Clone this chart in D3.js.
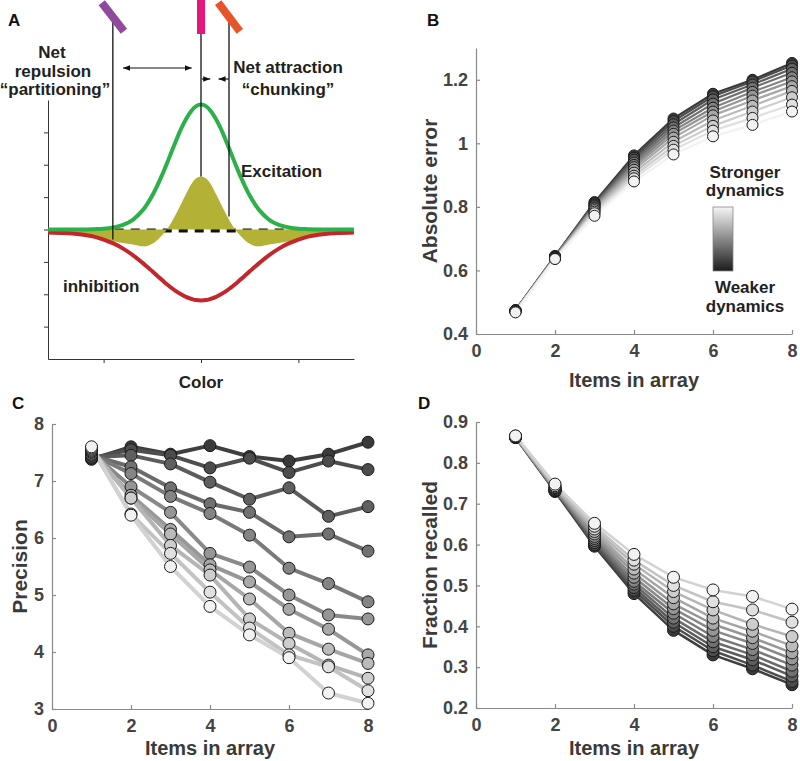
<!DOCTYPE html>
<html><head><meta charset="utf-8">
<script src="https://cdn.jsdelivr.net/npm/d3@7"></script>
<style>body{margin:0;background:#fff}svg{display:block;font-family:"Liberation Sans",Arial,Helvetica,sans-serif;font-weight:bold}</style>
</head><body>
<script>
// ---------- DATA ----------
// Panel A (schematic tuning curves) sampled on the colour axis (radians)
const colorX = [-3.14,-2.8,-2.5,-2.2,-2.0,-1.8,-1.6,-1.4,-1.2,-1.1,-1.0,-0.9,-0.8,-0.7,-0.6,-0.5,-0.4,-0.3,-0.2,-0.1,0,0.1,0.2,0.3,0.4,0.5,0.6,0.7,0.8,0.9,1.0,1.1,1.2,1.4,1.6,1.8,2.0,2.2,2.5,2.8,3.14];
const excitation = [0,0,0,0.01,0.02,0.06,0.14,0.30,0.59,0.80,1.05,1.35,1.68,2.04,2.42,2.79,3.14,3.43,3.66,3.81,3.86,3.81,3.66,3.43,3.14,2.79,2.42,2.04,1.68,1.35,1.05,0.80,0.59,0.30,0.14,0.06,0.02,0.01,0,0,0];
const inhibition = [-0.09,-0.11,-0.15,-0.22,-0.31,-0.43,-0.59,-0.79,-1.03,-1.16,-1.29,-1.43,-1.56,-1.69,-1.81,-1.92,-2.01,-2.09,-2.14,-2.18,-2.19,-2.18,-2.14,-2.09,-2.01,-1.92,-1.81,-1.69,-1.56,-1.43,-1.29,-1.16,-1.03,-0.79,-0.59,-0.43,-0.31,-0.22,-0.15,-0.11,-0.09];
const netInput = [-0.09,-0.11,-0.15,-0.21,-0.29,-0.36,-0.42,-0.46,-0.52,-0.51,-0.44,-0.33,-0.18,0.0,0.24,0.52,0.82,1.12,1.40,1.58,1.64,1.58,1.40,1.12,0.82,0.52,0.24,0.0,-0.18,-0.33,-0.44,-0.51,-0.52,-0.46,-0.42,-0.36,-0.29,-0.21,-0.15,-0.11,-0.09];
const aTicksX = [-2,0,2];
const aTicksY = [-3,-2,-1,0,1,2,3];

// Panels B-D
const items = [1,2,3,4,5,6,7,8];
const itemTicks = [0,2,4,6,8];
// index 0 = weakest dynamics (darkest) ... index 10 = strongest dynamics (lightest)
const absError = [
 [0.475,0.645,0.815,0.962,1.078,1.156,1.200,1.253],
 [0.475,0.645,0.812,0.955,1.070,1.148,1.195,1.245],
 [0.474,0.644,0.808,0.948,1.060,1.138,1.185,1.235],
 [0.474,0.643,0.805,0.940,1.050,1.125,1.175,1.222],
 [0.473,0.642,0.802,0.932,1.040,1.112,1.162,1.208],
 [0.473,0.641,0.798,0.925,1.030,1.100,1.150,1.195],
 [0.472,0.640,0.795,0.917,1.018,1.088,1.135,1.180],
 [0.472,0.639,0.790,0.908,1.005,1.072,1.118,1.165],
 [0.471,0.638,0.785,0.898,0.992,1.055,1.100,1.145],
 [0.470,0.637,0.780,0.890,0.980,1.040,1.080,1.122],
 [0.468,0.636,0.772,0.880,0.965,1.022,1.058,1.100]
];
const errorTicks = [0.4,0.6,0.8,1,1.2];
const precision = [
 [7.38,7.60,7.47,7.62,7.43,7.35,7.47,7.68],
 [7.40,7.55,7.45,7.23,7.40,7.15,7.35,7.20],
 [7.42,7.45,7.30,6.98,6.68,6.88,6.38,6.55],
 [7.45,7.25,6.88,6.60,6.45,6.02,6.07,5.77],
 [7.47,7.13,6.73,6.43,6.05,5.47,5.20,4.88],
 [7.50,6.90,6.45,5.73,5.49,5.00,4.65,4.58],
 [7.52,6.75,6.15,5.53,5.23,4.75,4.40,3.95],
 [7.54,6.70,6.07,5.44,4.93,4.33,4.05,3.80],
 [7.56,6.70,5.87,5.35,4.58,4.15,3.77,3.54],
 [7.58,6.42,5.73,5.05,4.42,3.95,3.74,3.32],
 [7.60,6.40,5.50,4.80,4.30,3.90,3.28,3.10]
];
const precisionTicks = [3,4,5,6,7,8];
const recalled = [
 [0.862,0.730,0.596,0.480,0.390,0.330,0.296,0.257],
 [0.862,0.731,0.600,0.488,0.400,0.340,0.305,0.265],
 [0.863,0.732,0.605,0.495,0.410,0.350,0.318,0.278],
 [0.863,0.733,0.610,0.503,0.420,0.362,0.330,0.290],
 [0.863,0.734,0.615,0.510,0.432,0.375,0.343,0.305],
 [0.864,0.735,0.620,0.520,0.443,0.390,0.358,0.320],
 [0.864,0.737,0.626,0.530,0.455,0.405,0.372,0.335],
 [0.864,0.739,0.632,0.540,0.470,0.420,0.388,0.352],
 [0.865,0.741,0.638,0.552,0.485,0.440,0.405,0.375],
 [0.865,0.744,0.645,0.562,0.500,0.460,0.440,0.410],
 [0.866,0.748,0.652,0.576,0.520,0.489,0.473,0.442]
];
const recallTicks = [0.2,0.3,0.4,0.5,0.6,0.7,0.8,0.9];

// ---------- DRAW ----------
const svg = d3.select("body").append("svg").attr("width",800).attr("height",761);
svg.append("rect").attr("width",800).attr("height",761).attr("fill","#fff");

const shade = d3.scaleLinear().domain([0,10]).range(["#3a3a3a","#f2f2f2"]);
const lineShade = d3.scaleLinear().domain([0,10]).range(["#3f3f3f","#d2d2d2"]);

// ===== Panel A =====
const ax = d3.scaleLinear().domain([-Math.PI,Math.PI]).range([48,354]);
const ay = d3.scaleLinear().domain([-4,4]).range([359,100]);
const gA = svg.append("g");
gA.append("g").attr("transform",`translate(0,${ay(-4)})`)
  .call(d3.axisBottom(ax).tickValues(aTicksX).tickSize(4).tickSizeOuter(0).tickFormat(""))
  .call(g=>g.selectAll("path,line").attr("stroke","#333"));
gA.append("g").attr("transform",`translate(${ax(-Math.PI)},0)`)
  .call(d3.axisLeft(ay).tickValues(aTicksY).tickSize(4).tickSizeOuter(0).tickFormat(""))
  .call(g=>g.selectAll("path,line").attr("stroke","#333"));

const ptsA = colorX.map((x,i)=>({x, e:excitation[i], h:inhibition[i], n:netInput[i]}));
gA.append("line").attr("x1",ax(-2.1)).attr("x2",ax(2.1)).attr("y1",ay(0)+1).attr("y2",ay(0)+1)
  .attr("stroke","#111").attr("stroke-width",4).attr("stroke-dasharray","9,7");
gA.append("path").datum(ptsA)
  .attr("d",d3.area().x(d=>ax(d.x)).y0(ay(0)).y1(d=>ay(d.n)).curve(d3.curveCatmullRom.alpha(0.5)))
  .attr("fill","#b3b237");
gA.append("path").datum(ptsA)
  .attr("d",d3.line().x(d=>ax(d.x)).y(d=>ay(d.h)).curve(d3.curveCatmullRom.alpha(0.5)))
  .attr("fill","none").attr("stroke","#c1272d").attr("stroke-width",4);
gA.append("path").datum(ptsA)
  .attr("d",d3.line().x(d=>ax(d.x)).y(d=>ay(d.e)).curve(d3.curveCatmullRom.alpha(0.5)))
  .attr("fill","none").attr("stroke","#2bb04a").attr("stroke-width",4);

// stimuli annotations
const stimuli = [
  {x:-1.81, bottom:-0.31, color:"#8f4a9e", angle:-38, len:36},
  {x:0, bottom:1.64, color:"#e6177b", angle:0, len:34},
  {x:0.575, bottom:0.4, color:"#e8542a", angle:-37, len:36}
];
const topY = 17;
stimuli.forEach(s=>{
  gA.append("line").attr("x1",ax(s.x)).attr("x2",ax(s.x)).attr("y1",topY).attr("y2",ay(s.bottom))
    .attr("stroke","#111").attr("stroke-width",1.3);
});
stimuli.forEach(s=>{
  gA.append("rect").attr("x",-4).attr("y",-s.len/2).attr("width",8).attr("height",s.len)
    .attr("fill",s.color).attr("transform",`translate(${ax(s.x)},${topY}) rotate(${s.angle})`);
});
// arrows
const defs = svg.append("defs");
defs.append("marker").attr("id","ah").attr("viewBox","0 0 10 10").attr("refX",10).attr("refY",5)
  .attr("markerWidth",7).attr("markerHeight",7).attr("markerUnits","userSpaceOnUse").attr("orient","auto-start-reverse")
  .append("path").attr("d","M0,1 L10,5 L0,9 Z").attr("fill","#111");
function arrow(x1,x2,y,both){
  const l = gA.append("line").attr("x1",ax(x1)).attr("x2",ax(x2)).attr("y1",y).attr("y2",y)
    .attr("stroke","#111").attr("stroke-width",1.2).attr("marker-end","url(#ah)");
  if(both) l.attr("marker-start","url(#ah)");
}
arrow(-1.60,-0.19,68,true);
arrow(0.02,0.19,79,false);
arrow(0.57,0.36,79,false);

const tA = (t,x,y,anchor,size)=>gA.append("text").text(t).attr("x",x).attr("y",y)
  .attr("text-anchor",anchor||"middle").attr("font-size",size||17).attr("fill","#231f20");
tA("Net",52,58); tA("repulsion",53,77); tA("\u201Cpartitioning\u201D",55,95);
tA("Net attraction",288,73); tA("\u201Cchunking\u201D",288,95);
tA("Excitation",241,177,"start"); tA("inhibition",63,292,"start");
tA("Color",201,388);
svg.append("text").text("A").attr("x",8).attr("y",26).attr("font-size",17).attr("fill","#111");

// ===== Panels B-D =====
function panel(o){
  const g = svg.append("g");
  const x = d3.scaleLinear().domain([0,8]).range(o.xr);
  const y = d3.scaleLinear().domain(o.yd).range(o.yr);
  const gx = g.append("g").attr("transform",`translate(0,${o.yr[0]})`)
    .call(d3.axisBottom(x).tickValues(itemTicks).tickSize(-4).tickSizeOuter(0).tickPadding(10).tickFormat(d=>String(d)));
  const gy = g.append("g").attr("transform",`translate(${o.xr[0]},0)`)
    .call(d3.axisLeft(y).tickValues(o.ticks).tickSize(-4).tickSizeOuter(0).tickPadding(8).tickFormat(d=>String(d)));
  [gx,gy].forEach(a=>{
    a.selectAll("path,line").attr("stroke","#8a8a8a").attr("stroke-width",1.2);
    a.selectAll("text").attr("font-size",18).attr("font-weight","bold").attr("fill","#444")
      .attr("font-family","'Liberation Sans',Arial,Helvetica,sans-serif");
  });
  const line = d3.line().x((d,i)=>x(items[i])).y(d=>y(d));
  o.data.forEach((s,k)=>{
    g.append("path").datum(s).attr("d",line).attr("fill","none")
      .attr("stroke",o.lineColor(k)).attr("stroke-width",o.lw).attr("stroke-linejoin","round");
  });
  o.data.forEach((s,k)=>{
    g.selectAll(null).data(s).enter().append("circle")
      .attr("cx",(d,i)=>x(items[i])).attr("cy",d=>y(d)).attr("r",o.r)
      .attr("fill",shade(k)).attr("stroke","#1a1a1a").attr("stroke-width",1);
  });
  g.append("text").text("Items in array").attr("x",(o.xr[0]+o.xr[1])/2).attr("y",o.xlabY)
    .attr("text-anchor","middle").attr("font-size",20).attr("fill","#3a3a3a");
  g.append("text").text(o.ylabel).attr("text-anchor","middle").attr("font-size",21).attr("fill","#3a3a3a")
    .attr("transform",`translate(${o.ylabX},${(o.yr[0]+o.yr[1])/2}) rotate(-90)`);
  svg.append("text").text(o.letter).attr("x",o.lx).attr("y",o.ly).attr("font-size",17).attr("fill","#111");
}
panel({xr:[476,792], yr:[334,48], yd:[0.4,1.3], ticks:errorTicks, data:absError, lw:2.2, r:5.5, lineColor:shade,
  xlabY:387, ylabel:"Absolute error", ylabX:437, letter:"B", lx:427, ly:26});
panel({xr:[52,368], yr:[709,424], yd:[3,8], ticks:precisionTicks, data:precision, lw:4, r:6, lineColor:lineShade,
  xlabY:755, ylabel:"Precision", ylabX:27, letter:"C", lx:12, ly:409});
panel({xr:[476,792], yr:[708,422], yd:[0.2,0.9], ticks:recallTicks, data:recalled, lw:2.5, r:6, lineColor:lineShade,
  xlabY:755, ylabel:"Fraction recalled", ylabX:437, letter:"D", lx:418, ly:409});

// legend colorbar
const grad = defs.append("linearGradient").attr("id","cbar").attr("x1",0).attr("y1",0).attr("x2",0).attr("y2",1);
grad.append("stop").attr("offset",0).attr("stop-color","#f6f6f6");
grad.append("stop").attr("offset",1).attr("stop-color","#1c1c1c");
svg.append("rect").attr("x",713).attr("y",207).attr("width",20).attr("height",64)
  .attr("fill","url(#cbar)").attr("stroke","#888").attr("stroke-width",0.8);
[["Stronger",178],["dynamics",196],["Weaker",293],["dynamics",312]].forEach(([t,yy])=>{
  svg.append("text").text(t).attr("x",745).attr("y",yy).attr("text-anchor","middle")
    .attr("font-size",17).attr("fill","#222");
});
</script>
</body></html>
